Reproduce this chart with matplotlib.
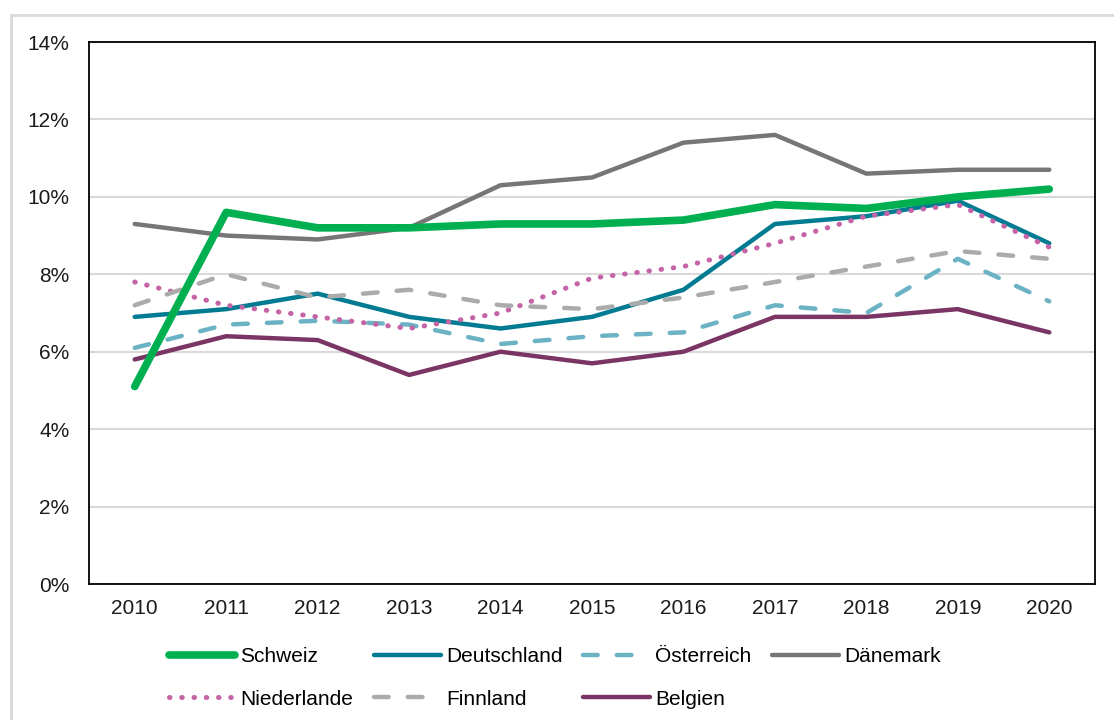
import matplotlib.pyplot as plt
from matplotlib.patches import Rectangle
from matplotlib.ticker import PercentFormatter
import numpy as np

plt.rcParams['font.family'] = ['Liberation Sans', 'DejaVu Sans']

# Daten (Anteil in %)
jahre = ['2010', '2011', '2012', '2013', '2014', '2015', '2016', '2017', '2018', '2019', '2020']
schweiz = [5.1, 9.6, 9.2, 9.2, 9.3, 9.3, 9.4, 9.8, 9.7, 10.0, 10.2]
deutschland = [6.9, 7.1, 7.5, 6.9, 6.6, 6.9, 7.6, 9.3, 9.5, 9.9, 8.8]
oesterreich = [6.1, 6.7, 6.8, 6.7, 6.2, 6.4, 6.5, 7.2, 7.0, 8.4, 7.3]
daenemark = [9.3, 9.0, 8.9, 9.2, 10.3, 10.5, 11.4, 11.6, 10.6, 10.7, 10.7]
niederlande = [7.8, 7.2, 6.9, 6.6, 7.0, 7.9, 8.2, 8.8, 9.5, 9.8, 8.7]
finnland = [7.2, 8.0, 7.4, 7.6, 7.2, 7.1, 7.4, 7.8, 8.2, 8.6, 8.4]
belgien = [5.8, 6.4, 6.3, 5.4, 6.0, 5.7, 6.0, 6.9, 6.9, 7.1, 6.5]

fig = plt.figure(figsize=(11.14, 7.2), dpi=100)
ax = fig.add_axes([89 / 1114, 136 / 720, (1095 - 89) / 1114, (584 - 42) / 720])

# äußerer Rahmen (nur links/oben sichtbar)
fig.patches.append(Rectangle((11 / 1114, -0.1), 1.2, (705 + 72) / 720, transform=fig.transFigure,
                             fill=False, edgecolor='#d9d9d9', linewidth=2, zorder=0))

x = np.arange(len(jahre))
ax.set_axisbelow(True)
ax.grid(axis='y', color='#d9d9d9', linewidth=1.5)

strich = (0, (3.3, 4.3))
l_sch, = ax.plot(x, schweiz, color='#00b050', linewidth=5.5, solid_capstyle='round', label='Schweiz', zorder=3)
l_de, = ax.plot(x, deutschland, color='#007b91', linewidth=3.2, solid_capstyle='round', label='Deutschland')
l_at, = ax.plot(x, oesterreich, color='#6bb3c4', linewidth=3.2, linestyle=strich,
                dash_capstyle='round', label='Österreich')
l_dk, = ax.plot(x, daenemark, color='#767676', linewidth=3.2, solid_capstyle='round', label='Dänemark')
l_nl, = ax.plot(x, niederlande, color='#c464a6', linewidth=3.6, linestyle=(0, (0.1, 2.35)),
                dash_capstyle='round', label='Niederlande')
l_fi, = ax.plot(x, finnland, color='#ababab', linewidth=3.2, linestyle=strich,
                dash_capstyle='round', label='Finnland')
l_be, = ax.plot(x, belgien, color='#7b3565', linewidth=3.2, solid_capstyle='round', label='Belgien')

ax.set_xlim(-0.5, len(jahre) - 0.5)
ax.set_ylim(0, 14)
ax.set_yticks(range(0, 15, 2))
ax.yaxis.set_major_formatter(PercentFormatter(decimals=0))
ax.set_xticks(x)
ax.set_xticklabels(jahre)
ax.tick_params(length=0, labelsize=15, colors='#1a1a1a')
ax.tick_params(axis='y', pad=14)
ax.tick_params(axis='x', pad=11)
for s in ax.spines.values():
    s.set_color('black')
    s.set_linewidth(1.3)

handles = [l_sch, l_nl, l_de, l_fi, l_at, l_be, l_dk]
fig.legend(handles=handles, labels=[h.get_label() for h in handles], ncol=4,
           loc='center', bbox_to_anchor=(0.498, 0.0585), frameon=False, fontsize=15,
           handlelength=3.2, handletextpad=0.25, columnspacing=1.0, labelspacing=1.12,
           borderaxespad=0, borderpad=0)

fig.savefig('out.png', dpi=100)
